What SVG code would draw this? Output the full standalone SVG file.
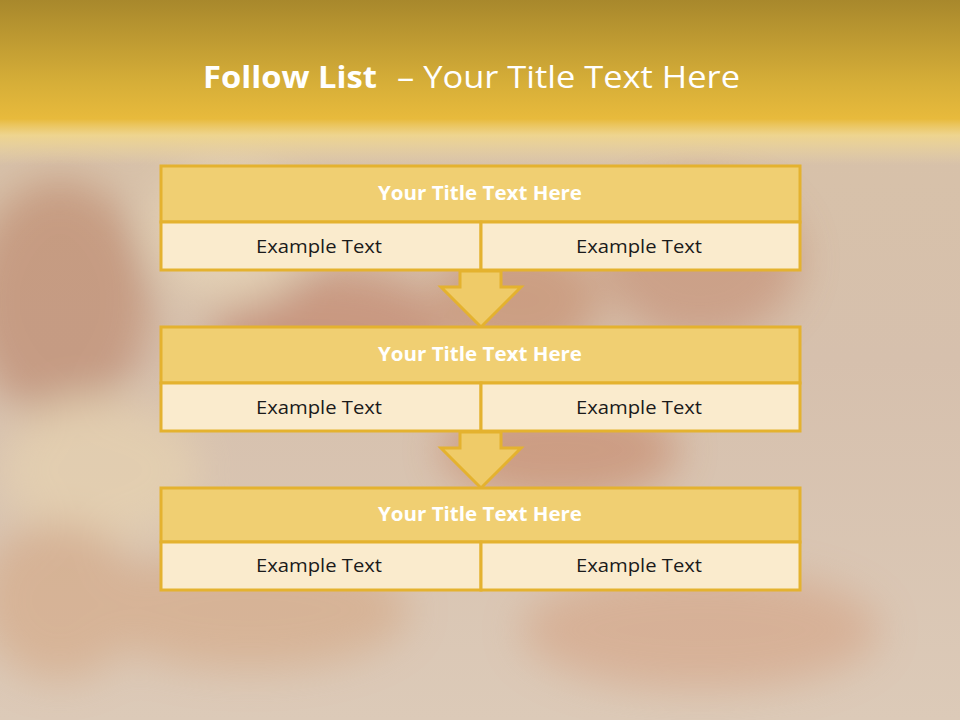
<svg xmlns="http://www.w3.org/2000/svg" width="960" height="720" viewBox="0 0 960 720">
<defs>
<linearGradient id="bg" x1="0" y1="0" x2="0" y2="1">
<stop offset="0" stop-color="#d8c2a6"/>
<stop offset="0.5" stop-color="#d6c0ad"/>
<stop offset="1" stop-color="#dccab8"/>
</linearGradient>
<linearGradient id="band" x1="0" y1="0" x2="0" y2="1">
<stop offset="0" stop-color="#a8882c"/>
<stop offset="0.5" stop-color="#d6ae38"/>
<stop offset="0.72" stop-color="#e8ba3c"/>
<stop offset="0.82" stop-color="#f2d88a" stop-opacity="0.85"/>
<stop offset="1" stop-color="#f3dca0" stop-opacity="0"/>
</linearGradient>
<filter id="blur" x="-50%" y="-50%" width="200%" height="200%"><feGaussianBlur stdDeviation="20"/></filter>
<style>
.t{fill:#f0cf72;stroke:#e4b22f;stroke-width:3}
.s{fill:#faebcd;stroke:#e4b22f;stroke-width:3}
.a{fill:#efcb68;stroke:#e4b22f;stroke-width:3;stroke-linejoin:miter}
.tt{font-family:"Open Sans","Liberation Sans",sans-serif;font-weight:bold;font-size:19px;fill:#ffffff;text-anchor:middle}
.et{font-family:"Open Sans","Liberation Sans",sans-serif;font-size:19px;fill:#1a1a1a;text-anchor:middle}
.hd{font-family:"Open Sans","Liberation Sans",sans-serif;font-size:31px;fill:#ffffff}
</style>
</defs>
<g id="background">
<rect x="0" y="0" width="960" height="720" fill="url(#bg)"/>
<g filter="url(#blur)" opacity="0.35">
<ellipse cx="60" cy="300" rx="90" ry="120" fill="#a85838"/>
<ellipse cx="330" cy="330" rx="120" ry="60" fill="#b05030"/>
<ellipse cx="520" cy="300" rx="80" ry="60" fill="#b86038"/>
<ellipse cx="700" cy="260" rx="100" ry="80" fill="#b86848"/>
<ellipse cx="100" cy="470" rx="100" ry="70" fill="#f6e2b0"/>
<ellipse cx="230" cy="230" rx="80" ry="70" fill="#fbeec8"/>
<ellipse cx="560" cy="450" rx="120" ry="50" fill="#b85830"/>
<ellipse cx="250" cy="610" rx="160" ry="60" fill="#d09060"/>
<ellipse cx="700" cy="630" rx="180" ry="60" fill="#d08860"/>
<ellipse cx="60" cy="600" rx="80" ry="80" fill="#d09060"/>
</g>
<rect x="0" y="0" width="960" height="165" fill="url(#band)"/>
</g>
<g id="title">
<text class="hd" x="203" y="88" font-weight="bold" textLength="174" lengthAdjust="spacingAndGlyphs">Follow List</text>
<text class="hd" x="397" y="88" textLength="343" lengthAdjust="spacingAndGlyphs">– Your Title Text Here</text>
</g>
<g id="connectors">
<path class="a" d="M460,271 L501,271 L501,287 L521,287 L481,327 L441,287 L460,287 Z"/>
<path class="a" d="M460,432 L501,432 L501,448 L521,448 L481,488 L441,448 L460,448 Z"/>
</g>
<g id="node1">
<rect class="t" x="161" y="166" width="639" height="56"/>
<rect class="s" x="161" y="222" width="320" height="48"/>
<rect class="s" x="481" y="222" width="319" height="48"/>
<text class="tt" x="480" y="200" textLength="204" lengthAdjust="spacingAndGlyphs">Your Title Text Here</text>
<text class="et" x="319" y="253" textLength="126" lengthAdjust="spacingAndGlyphs">Example Text</text>
<text class="et" x="639" y="253" textLength="126" lengthAdjust="spacingAndGlyphs">Example Text</text>
</g>
<g id="node2">
<rect class="t" x="161" y="327" width="639" height="56"/>
<rect class="s" x="161" y="383" width="320" height="48"/>
<rect class="s" x="481" y="383" width="319" height="48"/>
<text class="tt" x="480" y="361" textLength="204" lengthAdjust="spacingAndGlyphs">Your Title Text Here</text>
<text class="et" x="319" y="414" textLength="126" lengthAdjust="spacingAndGlyphs">Example Text</text>
<text class="et" x="639" y="414" textLength="126" lengthAdjust="spacingAndGlyphs">Example Text</text>
</g>
<g id="node3">
<rect class="t" x="161" y="488" width="639" height="54"/>
<rect class="s" x="161" y="542" width="320" height="48"/>
<rect class="s" x="481" y="542" width="319" height="48"/>
<text class="tt" x="480" y="521" textLength="204" lengthAdjust="spacingAndGlyphs">Your Title Text Here</text>
<text class="et" x="319" y="572" textLength="126" lengthAdjust="spacingAndGlyphs">Example Text</text>
<text class="et" x="639" y="572" textLength="126" lengthAdjust="spacingAndGlyphs">Example Text</text>
</g>
</svg>
